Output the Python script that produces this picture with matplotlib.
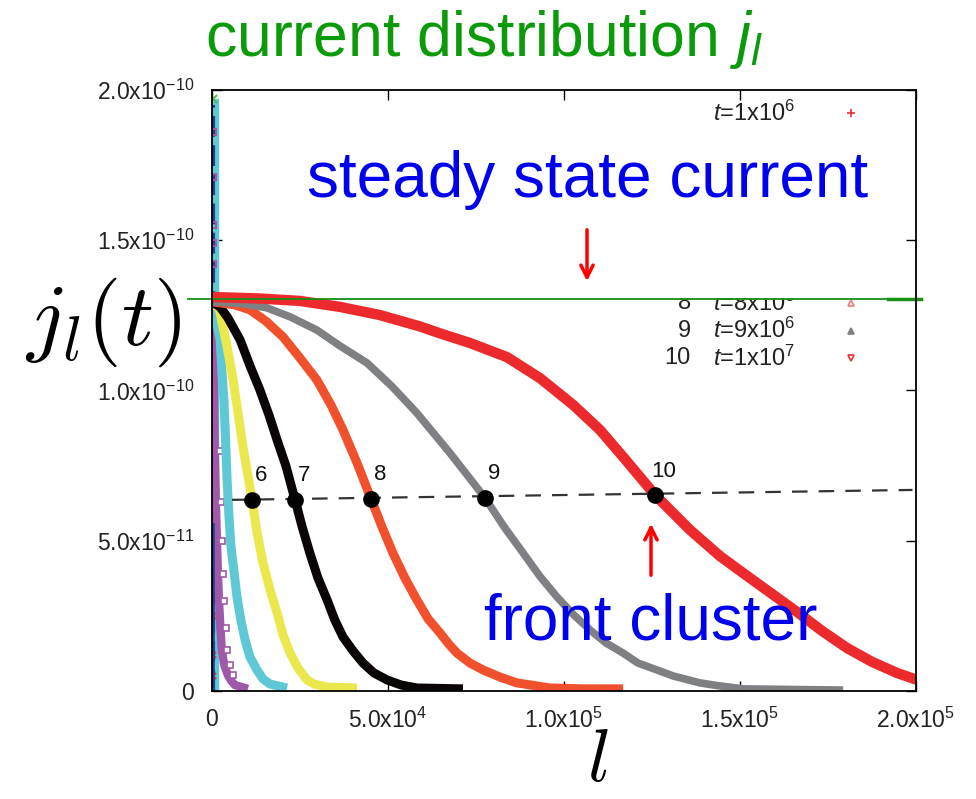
import numpy as np
import matplotlib
matplotlib.use('Agg')
import matplotlib.pyplot as plt
from matplotlib.patches import Rectangle

plt.rcParams['font.family'] = ['Liberation Sans', 'DejaVu Sans']
plt.rcParams['mathtext.fontset'] = 'custom'
plt.rcParams['mathtext.rm'] = 'Liberation Sans'
plt.rcParams['mathtext.it'] = 'Liberation Sans:italic'

# current profiles j_l(t), l in units of 1e3, j in units of 1e-10
l_cyan = [0.3, 2.3, 2.8, 3.4, 4.3, 4.8, 5.4, 6.3, 7.1, 8.2, 9.4, 10.8, 12.8, 14.5, 16.5, 21.3]
j_cyan = [1.29, 1.168, 1.068, 0.968, 0.702, 0.586, 0.479, 0.393, 0.313, 0.236, 0.170, 0.113,
          0.070, 0.040, 0.023, 0.010]

l_purple = [0.2, 0.5, 0.8, 1.1, 1.4, 1.7, 2.0, 2.4, 2.8, 3.5, 4.5, 5.5, 6.5, 10.2]
j_purple = [1.29, 1.02, 0.80, 0.63, 0.50, 0.39, 0.30, 0.21, 0.136, 0.085, 0.053, 0.033, 0.02, 0.007]

l6 = [0.6, 1.1, 2.0, 4.3, 6.0, 7.4, 8.8, 11.4, 12.8, 14.5, 16.5, 18.5, 20.2, 22.2, 24.4, 27.0,
      29.0, 32.7, 41.2]
j6 = [1.288, 1.28, 1.275, 1.145, 1.035, 0.925, 0.812, 0.636, 0.526, 0.426, 0.336, 0.26, 0.186,
      0.126, 0.077, 0.037, 0.023, 0.013, 0.01]

l7 = [0, 0.9, 2.3, 4.5, 8.0, 10.8, 13.6, 16.2, 18.5, 21.0, 23.6, 25.6, 27.8, 30.1, 32.7, 34.9,
      37.2, 40.1, 42.9, 46.0, 49.7, 53.7, 58.2, 71.3]
j7 = [1.291, 1.288, 1.278, 1.242, 1.168, 1.082, 1.002, 0.918, 0.835, 0.749, 0.636, 0.547, 0.459,
      0.376, 0.303, 0.236, 0.180, 0.133, 0.093, 0.060, 0.037, 0.020, 0.010, 0.007]

l8 = [0, 6.5, 10.8, 15.3, 20.2, 25.0, 29.8, 33.8, 37.2, 41.2, 45.2, 48.3, 51.4, 54.8, 58.2,
      61.4, 64.8, 67.2, 69.6, 73.3, 77.0, 82.1, 86.6, 96.0, 105.7, 116.8]
j8 = [1.295, 1.285, 1.268, 1.231, 1.178, 1.108, 1.035, 0.952, 0.869, 0.759, 0.639, 0.546, 0.459,
      0.376, 0.303, 0.240, 0.193, 0.157, 0.126, 0.093, 0.070, 0.045, 0.027, 0.010, 0.007, 0.007]

l9 = [0, 8.0, 15.6, 22.2, 29.8, 36.4, 44.0, 51.1, 58.2, 67.6, 77.6, 83.0, 88.4, 93.2, 98.0, 102.8,
      107.4, 111.9, 116.8, 121.0, 126.4, 131.0, 138.6, 143.5, 150.9, 164.2, 179.3]
j9 = [1.295, 1.290, 1.275, 1.245, 1.201, 1.148, 1.092, 1.014, 0.925, 0.792, 0.642, 0.546, 0.459,
      0.381, 0.313, 0.253, 0.203, 0.160, 0.126, 0.093, 0.070, 0.050, 0.027, 0.018, 0.007, 0.005,
      0.003]

l10 = [0, 13.6, 25.0, 36.4, 47.7, 59.1, 64.8, 73.3, 83.8, 93.2, 102.6, 110.2, 116.8, 125.9, 135.8,
       144.3, 152.0, 159.1, 166.2, 173.3, 180.4, 187.5, 194.6, 200.3]
j10 = [1.311, 1.306, 1.298, 1.278, 1.251, 1.213, 1.190, 1.158, 1.111, 1.041, 0.952, 0.869, 0.779,
       0.652, 0.536, 0.449, 0.383, 0.323, 0.263, 0.200, 0.143, 0.097, 0.060, 0.037]

# half-height front points
front_labels = ['6', '7', '8', '9', '10']
front_l = [11.4, 23.6, 45.2, 77.6, 125.9]
front_j = [0.636, 0.636, 0.639, 0.643, 0.652]
front_fit_l = [5.7, 199.0]
front_fit_j = [0.636, 0.669]

steady_j = 1.305

# early times pile up at l ~ 0
spike_red_j = [1.27, 1.21, 1.14, 1.06, 0.97, 0.88, 0.78, 0.64, 0.50, 0.37, 0.25, 0.12, 0.05]
spike_purple_j = [1.86, 1.71, 1.55, 1.49, 1.42]
spike_top = 1.97

# visible legend rows (rows 2-7 are hidden under the annotation)
legend_rows = [0, 7, 8, 9]
legend_labels = ['1x10', '8x10', '9x10', '1x10']
legend_exps = ['6', '6', '6', '7']
legend_nums = ['', '8', '9', '10']
legend_markers = ['+', '^', '^', 'v']
legend_colors = ['#e83030', '#f07a7a', '#808080', '#e83030']
legend_filled = [True, False, True, False]

xticks = [0, 5e4, 1e5, 1.5e5, 2e5]
xticklabels = ['0', r'$\mathregular{5.0x10^{4}}$', r'$\mathregular{1.0x10^{5}}$',
               r'$\mathregular{1.5x10^{5}}$', r'$\mathregular{2.0x10^{5}}$']
yticks = [0, 5e-11, 1e-10, 1.5e-10, 2e-10]
yticklabels = ['0', r'$\mathregular{5.0x10^{-11}}$', r'$\mathregular{1.0x10^{-10}}$',
               r'$\mathregular{1.5x10^{-10}}$', r'$\mathregular{2.0x10^{-10}}$']

L = 1e3
J = 1e-10

fig = plt.figure(figsize=(9.76, 7.99), dpi=100)
ax = fig.add_axes([0.2172, 0.1352, 0.7213, 0.7522])

# left pile of early-time curves
ax.plot([500, 500], [0, spike_top * J], color='#5ec8d4', lw=7.5, solid_capstyle='butt', zorder=2)
ax.plot([150, 150], [0, 1.95 * J], color='#1f3f95', lw=3, ls=(0, (5, 2)), zorder=2)
ax.plot(np.zeros(len(spike_purple_j)) + 300, np.array(spike_purple_j) * J, 's', ms=5,
        mfc='none', mec='#a058a8', mew=1.4, zorder=3)
ax.plot(np.zeros(len(spike_red_j)) + 200, np.array(spike_red_j) * J, 'x', ms=5,
        color='#e83030', mew=1.5, zorder=3)
ax.plot([200], [spike_top * J], 'x', ms=6, color='#55bb44', mew=1.5, zorder=3)

ax.plot(np.array(l_purple) * L, np.array(j_purple) * J, color='#a058a8', lw=6,
        solid_capstyle='butt', zorder=3)
ax.plot(np.array(l_purple[2:11]) * L + 1500, np.array(j_purple[2:11]) * J, 's', ms=5,
        mfc='white', mec='#a058a8', mew=1.2, zorder=3)
ax.plot(np.array(l_cyan) * L, np.array(j_cyan) * J, color='#5ec8d4', lw=6.5,
        solid_capstyle='butt', zorder=3)
ax.plot([0, 0], [0, 0.55 * J], color='#1f3f95', lw=4, zorder=3)
ax.plot(np.array(l6) * L, np.array(j6) * J, color='#ebe84e', lw=6.5, solid_capstyle='butt', zorder=4)
ax.plot(np.array(l7) * L, np.array(j7) * J, color='#0a0606', lw=6.5, solid_capstyle='butt', zorder=4)
ax.plot(np.array(l8) * L, np.array(j8) * J, color='#f0502c', lw=6.5, solid_capstyle='butt', zorder=4)
ax.plot(np.array(l9) * L, np.array(j9) * J, color='#7f8084', lw=5.5, solid_capstyle='butt', zorder=4)
ax.plot(np.array(l10) * L, np.array(j10) * J, color='#ec2a2e', lw=7.5, solid_capstyle='butt', zorder=5)

# front line and points
ax.plot(np.array(front_fit_l) * L, np.array(front_fit_j) * J, color='#333333', lw=1.6,
        dashes=(7, 5), zorder=6)
ax.plot(np.array(front_l) * L, np.array(front_j) * J, 'o', color='black', ms=11, zorder=7)
for lab, fl, fj in zip(front_labels, front_l, front_j):
    ax.text(fl * L + 2500, fj * J + 0.045 * J, lab, fontsize=16, color='#111111',
            ha='center', va='bottom', zorder=7)

# legend (gnuplot style)
for row, lab, ex, num, mk, col, fill in zip(legend_rows, legend_labels, legend_exps, legend_nums,
                                            legend_markers, legend_colors, legend_filled):
    yy = (1.923 - row * 0.0905) * J
    ax.text(142.3 * L, yy, r'$\mathit{t}$=' + lab + r'$\mathregular{^{' + ex + '}}$', fontsize=17,
            ha='left', va='center', color='#222222', zorder=8)
    ax.text(136.0 * L, yy, num, fontsize=17, ha='right', va='center', color='#222222', zorder=8)
    ax.plot([181.5 * L], [yy], mk, ms=6 if mk == '+' else 4.5, color=col,
            mfc=col if fill else 'none', mew=1.2, zorder=8)
ax.add_patch(Rectangle((100 * L, 1.309 * J), 96 * L, 0.57 * J, facecolor='white',
                       edgecolor='none', zorder=9))

# steady state level
ax.plot([-6.8 * L, 200 * L], [steady_j * J, steady_j * J], color='#169116', lw=1.3,
        clip_on=False, zorder=10)
ax.plot([192 * L, 201.5 * L], [steady_j * J, steady_j * J], color='#169116', lw=2.5,
        clip_on=False, zorder=10)

ax.set_xlim(0, 2e5)
ax.set_ylim(0, 2e-10)
ax.set_xticks(xticks)
ax.set_xticklabels(xticklabels)
ax.set_yticks(yticks)
ax.set_yticklabels(yticklabels)
ax.tick_params(direction='in', length=7, width=1, top=True, right=True, labelsize=16.5,
               labelcolor='#222222')
ax.tick_params(axis='x', pad=12)
ax.tick_params(axis='y', pad=13)
for s in ax.spines.values():
    s.set_linewidth(1.3)
    s.set_zorder(11)

# overlay annotations
fig.text(0.496, 0.950, 'current distribution $j_l$', fontsize=45, color='#0a9a0a',
         ha='center', va='center')
fig.text(587.5 / 976, 1 - 180 / 799, 'steady state current', fontsize=46, color='#0000ee',
         ha='center', va='center', zorder=12)
fig.text(651 / 976, 1 - 622 / 799, 'front cluster', fontsize=46, color='#0000ee',
         ha='center', va='center', zorder=12)
fig.text(103 / 976, 1 - 322 / 799, '$j_l(t)$', fontsize=64, math_fontfamily='cm',
         ha='center', va='center')
fig.text(598 / 976, 1 - 762 / 799, '$l$', fontsize=54, math_fontfamily='cm',
         ha='center', va='center')
ax.annotate('', xy=(587 / 976, 1 - 284 / 799), xytext=(587 / 976, 1 - 227 / 799),
            xycoords='figure fraction', textcoords='figure fraction',
            arrowprops=dict(arrowstyle='->', color='#ff0000', lw=2.5, mutation_scale=22),
            zorder=12)
ax.annotate('', xy=(651 / 976, 1 - 521 / 799), xytext=(651 / 976, 1 - 578 / 799),
            xycoords='figure fraction', textcoords='figure fraction',
            arrowprops=dict(arrowstyle='->', color='#ff0000', lw=2.5, mutation_scale=22),
            zorder=12)

fig.savefig('out.png', dpi=100)
